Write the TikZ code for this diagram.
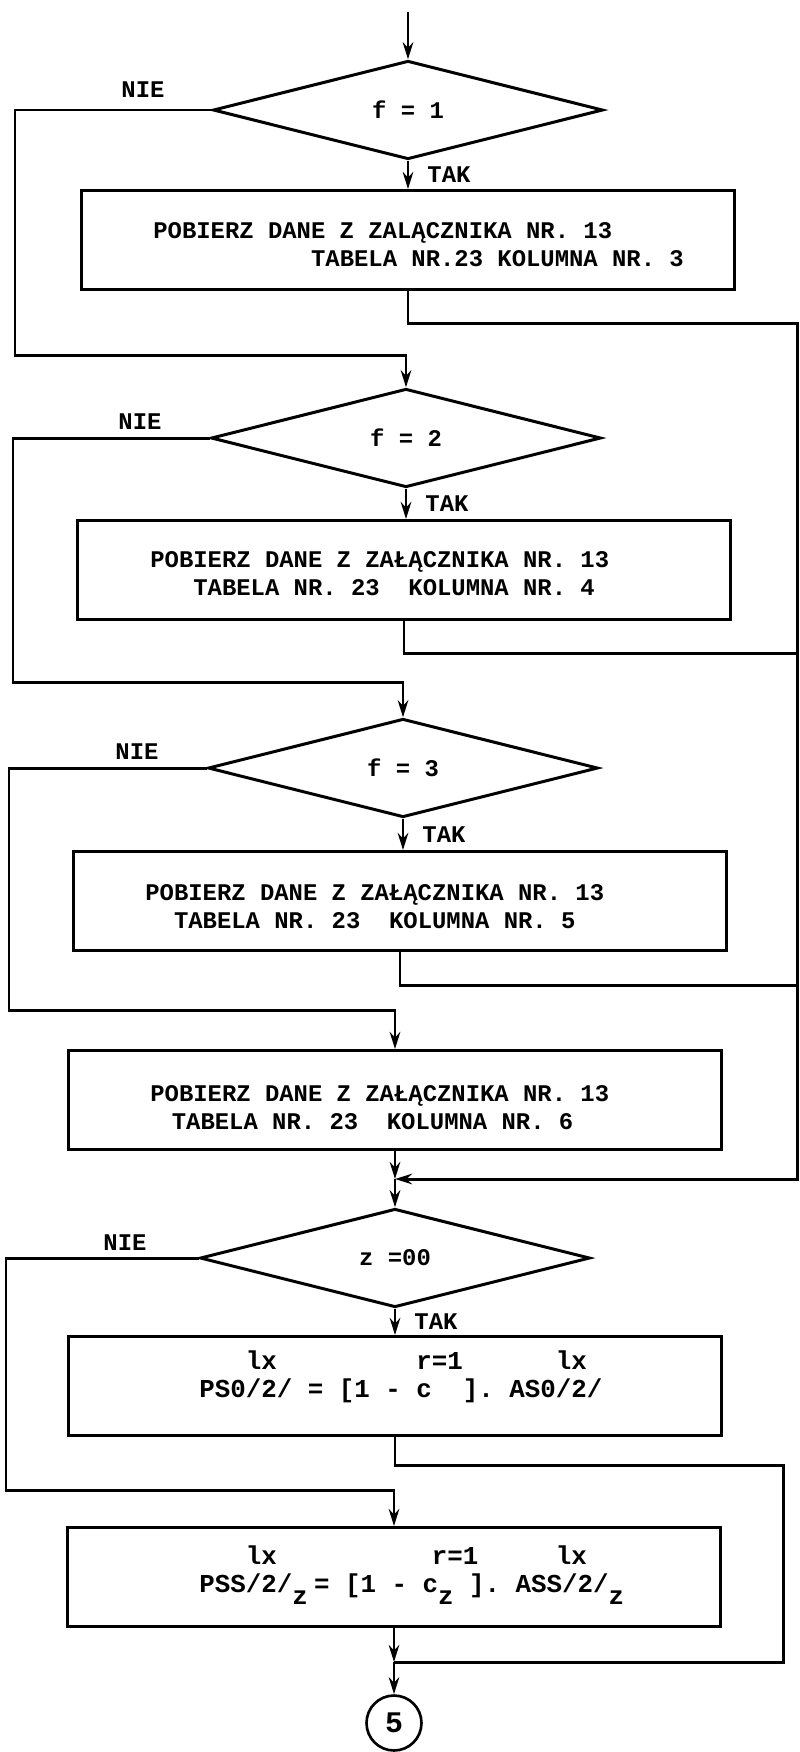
\documentclass[tikz,border=0pt]{standalone}
\usepackage{fontspec}
\setmonofont{Liberation Mono}
\usetikzlibrary{arrows.meta,positioning,shapes.geometric}
\newcommand{\typsp}[1]{\hspace*{#1\fontcharwd\font`0}}
\newcommand{\lowz}{\raisebox{-7pt}{z}}
\newcommand{\typefont}[1]{\ttfamily\bfseries\fontsize{#1}{16}\selectfont}
\tikzset{
  >={Stealth[length=3.4mm,width=2.1mm]},
  line/.style={line width=1.7pt},
  flow/.style={line,->},
  decision/.style={diamond,draw,line width=1.7pt,inner sep=0pt,
    minimum width=7.8cm,minimum height=1.97cm,font=\typefont{13.6}},
  stepbox/.style={draw,line width=1.7pt,minimum width=13.06cm,minimum height=1.98cm},
  boxtext/.style={anchor=west,align=left,inner sep=0pt,font=\typefont{13.6}},
  formula/.style={anchor=west,align=left,inner sep=0pt,font=\typefont{14.7}},
  tag/.style={inner sep=0pt,font=\typefont{13.6}},
  yes/.style={tag,anchor=west,xshift=0.36cm},
  joint/.style={circle,draw,line width=1.5pt,minimum size=1.1cm,inner sep=0pt,
    font=\typefont{17}},
}

\begin{document}
\begin{tikzpicture}[x=0.02cm,y=-0.02cm]
  \useasboundingbox (0,0) rectangle (800,1752);
  % decisions
  \node[decision] (d1) at (408,110) {f = 1};
  \node[decision] (d2) at (406,438) {f = 2};
  \node[decision] (d3) at (403,768) {f = 3};
  \node[decision] (d4) at (395,1258) {z =00};
  % steps
  \node[stepbox] (b1) at (408,240) {};
  \node[stepbox] (b2) at (404,570) {};
  \node[stepbox] (b3) at (400,901) {};
  \node[stepbox] (b4) at (395,1100) {};
  \node[stepbox] (b5) at (395,1386) {};
  \node[stepbox] (b6) at (394,1577) {};
  \node[joint] (c5) at (394,1723) {5};
  % texts in the steps
  \node[boxtext] (t1) at (153,245) {POBIERZ DANE Z ZALĄCZNIKA NR. 13\\\typsp{11}TABELA NR.23 KOLUMNA NR. 3};
  \node[boxtext] (t2) at (150,574) {POBIERZ DANE Z ZAŁĄCZNIKA NR. 13\\\typsp{3}TABELA NR. 23~~KOLUMNA NR. 4};
  \node[boxtext] (t3) at (145,907) {POBIERZ DANE Z ZAŁĄCZNIKA NR. 13\\\typsp{2}TABELA NR. 23~~KOLUMNA NR. 5};
  \node[boxtext] (t4) at (150,1108) {POBIERZ DANE Z ZAŁĄCZNIKA NR. 13\\\typsp{1.5}TABELA NR. 23~~KOLUMNA NR. 6};
  \node[formula] (f5) at (199,1377) {\typsp{3}lx\typsp{9}r=1\typsp{6}lx\\PS0/2/ = [1 - c\typsp{2}]. AS0/2/};
  \node[formula] (f6) at (199,1575) {\typsp{3}lx\typsp{10}r=1\typsp{5}lx\\PSS/2/\lowz\typsp{0.4}= [1 - c\lowz\typsp{1}]. ASS/2/\lowz};
  % NIE labels
  \node[tag] (nie1) at (143,90) {NIE};
  \node[tag] (nie2) at (140,422) {NIE};
  \node[tag] (nie3) at (137,752) {NIE};
  \node[tag] (nie4) at (125,1243) {NIE};
  % main line
  \coordinate (in) at (408,12);
  \coordinate (m1) at (395,1179);
  \coordinate (m2) at (394,1662);
  \draw[flow] (in) -- (d1.north);
  \draw[flow] (d1.south) -- node[yes] {TAK} (d1.south |- b1.north);
  \draw[flow] (d2.south) -- node[yes] {TAK} (d2.south |- b2.north);
  \draw[flow] (d3.south) -- node[yes] {TAK} (d3.south |- b3.north);
  \draw[flow] (d4.south) -- node[yes] {TAK} (d4.south |- b5.north);
  % NIE branches
  \draw[flow] (d1.west) -| (15,355) -| (d2.north);
  \draw[flow] (d2.west) -| (13,682) -| (d3.north);
  \draw[flow] (d3.west) -| (9,1010) -| (b4.north);
  \draw[flow] (d4.west) -| (6,1490) -| (b6.north);
  % returns on the right
  \draw[flow] (b1.south) |- (797,323) -- (797,1179) -- (m1);
  \draw[line] (b2.south) |- (797,653);
  \draw[line] (b3.south) |- (797,985);
  \draw[flow] (b4.south) -- (m1);
  \draw[flow] (m1) -- (d4.north);
  \draw[line] (b5.south) |- (783,1465) |- (m2);
  \draw[flow] (b6.south) -- (m2);
  \draw[flow] (m2) -- (c5);
\end{tikzpicture}
\end{document}
